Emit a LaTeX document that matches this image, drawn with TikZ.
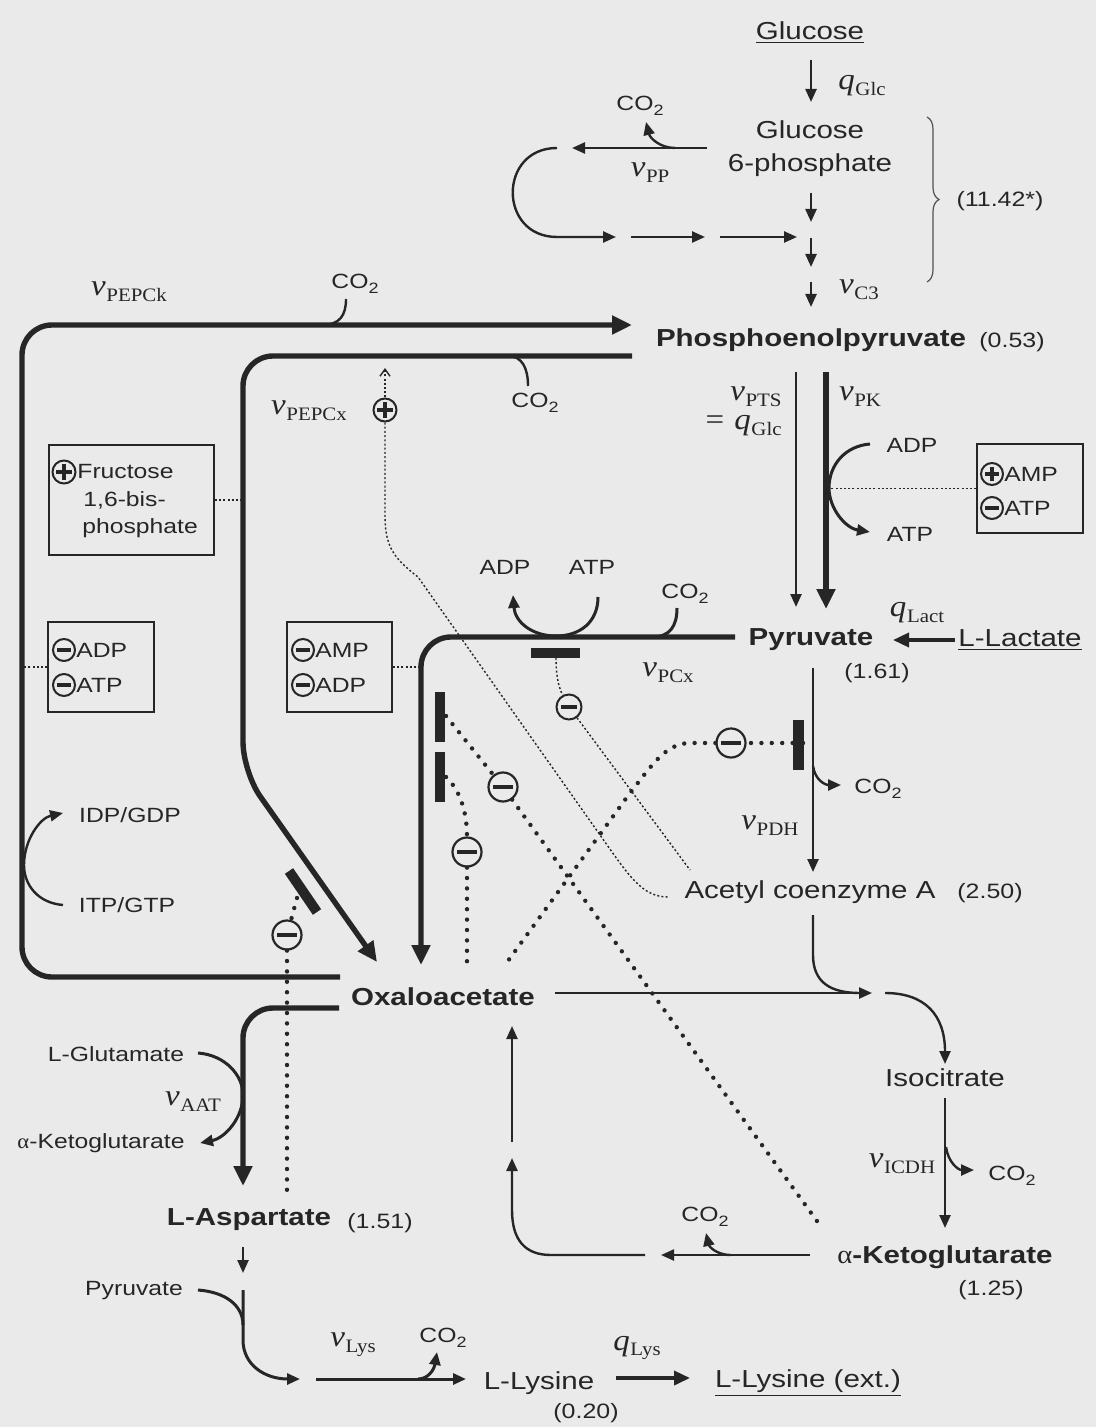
\documentclass[tikz,border=0pt]{standalone}
\usepackage{fontspec}
\setmainfont{Liberation Sans}[FakeStretch=1.2]
\newfontfamily\tnr{Liberation Serif}[FakeStretch=1.1]
\usetikzlibrary{arrows.meta,decorations.pathreplacing}
\definecolor{ink}{HTML}{262626}
\definecolor{bg}{HTML}{EAEAEA}
\newcommand\flx[2]{{\tnr\itshape\fontsize{15}{17}\selectfont #1}\kern0.3pt\raisebox{-0.55ex}{\tnr\fontsize{9.5}{11}\selectfont #2}}
\newcommand\COt{CO\raisebox{-0.45ex}{\fontsize{7.5}{9}\selectfont 2}}
\begin{document}
\begin{tikzpicture}[x=0.5pt,y=-0.5pt,
  lbl/.style={font=\fontsize{12.3}{16.5}\selectfont, text=ink, inner sep=0pt},
  bld/.style={font=\fontsize{12.3}{15}\selectfont\bfseries, text=ink, inner sep=0pt},
  sml/.style={font=\fontsize{10.3}{12.5}\selectfont, text=ink, inner sep=0pt},
  numl/.style={font=\fontsize{10.4}{12.5}\selectfont, text=ink, inner sep=0pt},
  flux/.style={text=ink, inner sep=0pt},
  heavy/.style={draw=ink, line width=2.7pt},
  med/.style={draw=ink, line width=1.2pt},
  bigtip/.style={-{Triangle[length=10pt,width=9pt]}},
  midtip/.style={-{Triangle[length=6.5pt,width=5.5pt]}},
  dots/.style={draw=ink, line width=2.2pt, line cap=round, dash pattern=on 0pt off 5.2pt},
  fine/.style={draw=ink, line width=0.7pt, dash pattern=on 1pt off 1.1pt},
  blocker/.style={draw=ink, line width=5pt},
  boxst/.style={draw=ink, line width=0.9pt, inner sep=0pt},
  mk/.style={circle, draw=ink, fill=bg, inner sep=0pt},
  mbar/.style={path picture={\fill[ink] ([xshift=-#1,yshift=-0.9pt]path picture bounding box.center) rectangle ([xshift=#1,yshift=0.9pt]path picture bounding box.center);}},
  pbar/.style={path picture={\fill[ink] ([xshift=-#1,yshift=-0.9pt]path picture bounding box.center) rectangle ([xshift=#1,yshift=0.9pt]path picture bounding box.center); \fill[ink] ([xshift=-0.9pt,yshift=-#1]path picture bounding box.center) rectangle ([xshift=0.9pt,yshift=#1]path picture bounding box.center);}},
  minus/.style={mk, line width=1.1pt, minimum size=14.5pt, mbar=4.8pt},
  minussm/.style={mk, line width=1pt, minimum size=12.5pt, mbar=4pt},
  bminus/.style={mk, line width=1pt, minimum size=11pt, mbar=3.6pt},
  bplus/.style={mk, line width=1pt, minimum size=11pt, pbar=3.6pt},
  fplus/.style={mk, line width=1pt, minimum size=11.5pt, pbar=3.8pt}
]
\fill[bg] (0,0) rectangle (1096,1427);
\useasboundingbox (0,0) rectangle (1096,1427);

% ---------- metabolite and label nodes ----------
\node[lbl] (glc) at (810,33) {\underline{Glucose}};
\node[flux] (qglc) at (862,86) {\flx{q}{Glc}};
\node[lbl, align=center] (g6p) at (810,149) {Glucose\\6-phosphate};
\node[sml] (co2pp) at (640,106) {\COt};
\node[flux] (vpp) at (650,173) {\flx{v}{PP}};
\node[flux] (vc3) at (859,290) {\flx{v}{C3}};
\node[numl] (n1142) at (1000,201) {(11.42*)};

\node[bld] (pep) at (811,340) {Phosphoenolpyruvate};
\node[numl] (pepn) at (1012,342) {(0.53)};
\node[flux] (vpepck) at (129,292) {\flx{v}{PEPCk}};
\node[sml] (co2ck) at (355,284) {\COt};
\node[flux] (vpepcx) at (309,411) {\flx{v}{PEPCx}};
\node[sml] (co2cx) at (535,403) {\COt};
\node[fplus] (actfbp) at (385,410) {};

\node[flux, anchor=east] (vpts) at (782,397) {\flx{v}{PTS}};
\node[flux, anchor=east] (vpts2) at (782,426) {{\tnr\fontsize{15}{17}\selectfont =}\kern5pt\flx{q}{Glc}};
\node[flux] (vpk) at (860,397) {\flx{v}{PK}};
\node[sml] (adppk) at (912,445) {ADP};
\node[sml] (atppk) at (910,534) {ATP};

\node[boxst, minimum width=53pt, minimum height=44.5pt] (boxpk) at (1030,488.5) {};
\node[bplus] (pkp) at (992,474) {};
\node[sml, anchor=west] (pkamp) at (1004,474) {AMP};
\node[bminus] (pkm) at (992,508) {};
\node[sml, anchor=west] (pkatp) at (1004,508) {ATP};

\node[boxst, minimum width=82.5pt, minimum height=55pt] (boxfbp) at (131.5,500) {};
\node[fplus] (fbpp) at (64,472) {};
\node[sml, anchor=west] (fbp1) at (77,472) {Fructose};
\node[sml, anchor=west] (fbp2) at (83,500) {1,6-bis-};
\node[sml, anchor=west] (fbp3) at (82,528) {phosphate};

\node[boxst, minimum width=53pt, minimum height=45pt] (boxl) at (101,667) {};
\node[bminus] (blm1) at (64,650) {};
\node[sml, anchor=west] (blt1) at (76,650) {ADP};
\node[bminus] (blm2) at (64,685) {};
\node[sml, anchor=west] (blt2) at (76,685) {ATP};

\node[boxst, minimum width=52.5pt, minimum height=45pt] (boxc) at (339.5,667) {};
\node[bminus] (bcm1) at (303,650) {};
\node[sml, anchor=west] (bct1) at (315,650) {AMP};
\node[bminus] (bcm2) at (303,685) {};
\node[sml, anchor=west] (bct2) at (315,685) {ADP};

\node[bld] (pyr) at (811,640) {Pyruvate};
\node[numl] (pyrn) at (877,673) {(1.61)};
\node[lbl] (lac) at (1020,640) {\underline{L-Lactate}};
\node[flux] (qlact) at (917,613) {\flx{q}{Lact}};
\node[sml] (adpcx) at (505,567) {ADP};
\node[sml] (atpcx) at (592,567) {ATP};
\node[sml] (co2pcx) at (685,594) {\COt};
\node[flux] (vpcx) at (668,673) {\flx{v}{PCx}};

\node[flux] (vpdh) at (770,826) {\flx{v}{PDH}};
\node[sml] (co2pdh) at (878,789) {\COt};
\node[lbl] (acoa) at (810,892) {Acetyl coenzyme A};
\node[numl] (acoan) at (990,893) {(2.50)};

\node[sml] (idp) at (130,815) {IDP/GDP};
\node[sml] (itp) at (127,905) {ITP/GTP};

\node[bld] (oaa) at (443,997) {Oxaloacetate};
\node[lbl] (isc) at (945,1078) {Isocitrate};
\node[flux] (vicdh) at (902,1164) {\flx{v}{ICDH}};
\node[sml] (co2icdh) at (1012,1176) {\COt};
\node[bld] (akg) at (945,1257) {{\tnr\mdseries\fontsize{13}{15}\selectfont α}-Ketoglutarate};
\node[numl] (akgn) at (991,1290) {(1.25)};
\node[sml] (co2akg) at (705,1217) {\COt};

\node[sml] (glu) at (116,1054) {L-Glutamate};
\node[sml] (akg2) at (101,1143) {{\tnr α}-Ketoglutarate};
\node[flux] (vaat) at (193,1102) {\flx{v}{AAT}};
\node[bld] (asp) at (249,1220) {L-Aspartate};
\node[numl] (aspn) at (380,1223) {(1.51)};
\node[sml] (pyr2) at (134,1291) {Pyruvate};
\node[flux] (vlys) at (353,1345) {\flx{v}{Lys}};
\node[sml] (co2lys) at (443,1338) {\COt};
\node[lbl] (lys) at (539,1383) {L-Lysine};
\node[numl] (lysn) at (586,1413) {(0.20)};
\node[flux] (qlys) at (637,1348) {\flx{q}{Lys}};
\node[lbl] (lysx) at (808,1383) {\underline{L-Lysine (ext.)}};

% ---------- glycolysis / PP ----------
\draw[med, midtip] (811,60) -- (811,102);
\draw[med, midtip] (707,148) -- (572,148);
\draw[med, midtip] (675,148) .. controls (660,148) and (650,138) .. (646,122);
\draw[med, midtip] (557,148) .. controls (498,148) and (498,237) .. (557,237) -- (616,237);
\draw[med, midtip] (631,237) -- (705,237);
\draw[med, midtip] (720,237) -- (797,237);
\draw[med, midtip] (811,193) -- (811,222);
\draw[med, midtip] (811,238) -- (811,267);
\draw[med, midtip] (811,282) -- (811,307);
\draw[ink!80, line width=0.6pt, decorate, decoration={brace, amplitude=6pt}] (927,117) -- (927,282);

% ---------- PEP carboxykinase / carboxylase ----------
\draw[heavy, bigtip, rounded corners=15pt] (340,977) -- (22,977) -- (22,325) -- (632,325);
\draw[med] (346,299) .. controls (346,315) and (340,325) .. (322,325);
\draw[heavy, bigtip, rounded corners=15pt] (632,356) -- (243,356) -- (243,772) [rounded corners=5pt] -- (377,962);
\draw[med] (508,356) .. controls (522,356) and (528,368) .. (528,386);
\draw[med, midtip] (63,905) .. controls (38,903) and (24,885) .. (24,865) .. controls (24,840) and (40,818) .. (63,813);

% ---------- PTS / PK ----------
\draw[med, midtip] (796,372) -- (796,607);
\draw[heavy, bigtip] (826,372) -- (826,609);
\draw[med, line width=1.5pt, midtip] (870,444) .. controls (845,446) and (829,465) .. (829,488) .. controls (829,508) and (845,528) .. (870,532);

% ---------- pyruvate carboxylase ----------
\draw[heavy, bigtip, rounded corners=15pt] (735,637) -- (421,637) -- (421,965);
\draw[med, line width=1.5pt, midtip] (598,597) .. controls (598,622) and (580,636) .. (556,636) .. controls (532,636) and (515,622) .. (513,595);
\draw[med, line width=1.5pt] (677,608) .. controls (677,626) and (670,637) .. (652,637);
\draw[draw=ink, line width=1.8pt, -{Triangle[length=8pt,width=7pt]}] (955,640) -- (893,640);

% ---------- PDH and TCA ----------
\draw[med, midtip] (813,668) -- (813,872);
\draw[med, midtip] (813,766) .. controls (815,780) and (825,785) .. (841,785);
\draw[med] (813,915) -- (813,955) .. controls (813,982) and (830,993) .. (860,993);
\draw[med, midtip] (555,993) -- (872,993);
\draw[med, midtip] (885,993) .. controls (925,993) and (945,1015) .. (945,1064);
\draw[med, midtip] (945,1098) -- (945,1228);
\draw[med, midtip] (946,1147) .. controls (948,1162) and (958,1170) .. (974,1170);
\draw[med, midtip] (810,1255) -- (661,1255);
\draw[med, midtip] (731,1255) .. controls (716,1255) and (709,1246) .. (706,1233);
\draw[med, midtip] (645,1255) -- (551,1255) .. controls (525,1255) and (512,1240) .. (512,1210) -- (512,1158);
\draw[med, midtip] (512,1142) -- (512,1026);

% ---------- aspartate / lysine ----------
\draw[heavy, bigtip, rounded corners=15pt] (339,1008) -- (243,1008) -- (243,1186);
\draw[med, line width=1.5pt, midtip] (198,1053) .. controls (225,1055) and (243,1075) .. (243,1095) .. controls (243,1118) and (225,1138) .. (200,1143);
\draw[med, midtip] (243,1247) -- (243,1273);
\draw[med, line width=1.5pt] (198,1290) .. controls (225,1292) and (243,1305) .. (243,1325);
\draw[med, line width=1.5pt, midtip] (243,1290) -- (243,1340) .. controls (243,1365) and (265,1379) .. (300,1379);
\draw[med, line width=1.5pt, midtip] (316,1379) -- (466,1379);
\draw[med, line width=1.5pt, midtip] (418,1379) .. controls (428,1379) and (434,1370) .. (437,1352);
\draw[draw=ink, line width=1.8pt, -{Triangle[length=8pt,width=7pt]}] (616,1378) -- (690,1378);

% ---------- regulation ----------
\draw[fine] (boxpk.west) -- (829,488.5);
\draw[fine] (boxfbp.east) -- (243,500);
\draw[fine] (boxl.west) -- (22,667);
\draw[fine] (boxc.east) -- (421,667);

\draw[blocker] (531,653) -- (580,653);
\draw[blocker] (440,692) -- (440,742);
\draw[blocker] (440,752) -- (440,802);
\draw[blocker, line width=5.5pt] (798,720) -- (798,770);
\draw[blocker] (289,871) -- (317,912);

\node[minussm] (iPCx) at (569,707) {};
\node[minus] (iU) at (503,787) {};
\node[minus] (iL) at (467,852) {};
\node[minus] (iPDH) at (731,743) {};
\node[minus] (iCx) at (287,935) {};

\draw[fine, -{Straight Barb[length=3.5pt,width=5pt]}] (actfbp) -- (385,368);
\draw[fine] (actfbp) -- (385,515) .. controls (385,545) and (392,557) .. (418,577) -- (612,852) .. controls (632,880) and (645,897) .. (668,897);
\draw[fine] (556,658) .. controls (556,680) and (560,690) .. (iPCx);
\draw[fine] (iPCx) -- (690,870);

\draw[dots] (446,716) -- (iU);
\draw[dots] (iU) -- (822,1228);
\draw[dots] (446,777) .. controls (460,790) and (467,812) .. (iL);
\draw[dots] (iL) -- (467,965);
\draw[dots] (803,743) -- (iPDH);
\draw[dots] (iPDH) -- (690,743) .. controls (665,743) and (650,768) .. (630,793) -- (505,965);
\draw[dots] (297,898) -- (iCx);
\draw[dots] (iCx) -- (287,1190);
\end{tikzpicture}
\end{document}
